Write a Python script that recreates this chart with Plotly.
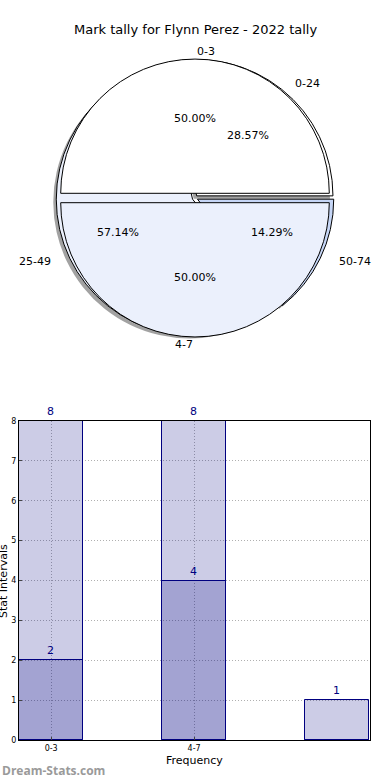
import math
import plotly.graph_objects as go

# ---- data ----
title = "Mark tally for Flynn Perez - 2022 tally"
pie_outer_labels = ["0-3", "4-7"]
pie_outer_values = [8, 8]
pie_inner_labels = ["0-24", "25-49", "50-74"]
pie_inner_values = [2, 4, 1]

bar_categories = ["0-3", "4-7", ""]
bar_series_a = [8, 8, 0]
bar_series_b = [2, 4, 1]
y_ticks = [0, 1, 2, 3, 4, 5, 6, 7, 8]

W, H = 390, 780
def fx(x):
    return x / W
def fy(y):
    return 1 - y / H

FONT = "DejaVu Sans"
CX, CY, HALF = 195, 198, 139          # pie centre / half-size of domain (pixels)
RX, RY = 143, 133                     # radii used to place the pie texts
pie_dom = dict(x=[fx(CX - HALF), fx(CX + HALF)], y=[fy(CY + HALF), fy(CY - HALF)])


def rotation_for(values):
    # plotly (counterclockwise): first slice ends at 90 - rotation degrees;
    # we want the first slice to start at 3 o'clock.
    return 90 - 360 * values[0] / sum(values)


fig = go.Figure()

# shadow of back pie
fig.add_trace(go.Pie(
    labels=pie_inner_labels, values=pie_inner_values, sort=False,
    direction="counterclockwise", rotation=rotation_for(pie_inner_values),
    domain=dict(x=[pie_dom["x"][0] - 3 / W, pie_dom["x"][1] - 3 / W],
                y=[pie_dom["y"][0] - 3 / H, pie_dom["y"][1] - 3 / H]),
    pull=[0.02] * 3,
    marker=dict(colors=["#8c8c8c"] * 3, line=dict(color="#8c8c8c", width=0)),
    opacity=0.8, textinfo="none", hoverinfo="skip", showlegend=False))

# back pie
fig.add_trace(go.Pie(
    labels=pie_inner_labels, values=pie_inner_values, sort=False,
    direction="counterclockwise", rotation=rotation_for(pie_inner_values), domain=pie_dom,
    pull=[0.02] * 3,
    marker=dict(colors=["#ffffff", "#ebf0fc", "#c6d6f6"], line=dict(color="#000000", width=1)),
    textinfo="none", hoverinfo="label+percent", showlegend=False))

# front pie
fig.add_trace(go.Pie(
    labels=pie_outer_labels, values=pie_outer_values, sort=False,
    direction="counterclockwise", rotation=rotation_for(pie_outer_values), domain=pie_dom,
    pull=[0.035] * 2,
    marker=dict(colors=["#ffffff", "#ebf0fc"], line=dict(color="#000000", width=1)),
    textinfo="none", hoverinfo="label+percent", showlegend=False))

# pie texts (labels at 1.1 radius, percentages at 0.6 radius), derived from the values
annotations = []
for labs, vals in [(pie_outer_labels, pie_outer_values), (pie_inner_labels, pie_inner_values)]:
    total = sum(vals)
    cum = 0
    for lab, v in zip(labs, vals):
        theta = math.radians(360 * (cum + v / 2) / total)
        cum += v
        c, s = math.cos(theta), math.sin(theta)
        annotations.append(dict(
            text=lab, x=fx(CX + 1.1 * RX * c), y=fy(CY - 1.1 * RY * s),
            xref="paper", yref="paper",
            xanchor="left" if c > 0 else "right", yanchor="middle",
            showarrow=False, font=dict(size=11, family=FONT, color="#000000")))
        annotations.append(dict(
            text=f"{100 * v / total:.2f}%", x=fx(CX + 0.6 * RX * c), y=fy(CY - 0.6 * RY * s),
            xref="paper", yref="paper",
            xanchor="center", yanchor="middle",
            showarrow=False, font=dict(size=11, family=FONT, color="#000000")))

# bars
xs = list(range(len(bar_categories)))
for vals in [bar_series_a, bar_series_b]:
    fig.add_trace(go.Bar(
        x=xs, y=vals, width=0.45,
        marker=dict(color="rgba(0,0,128,0.2)", line=dict(color="#000080", width=1)),
        text=[str(v) if v else "" for v in vals], textposition="outside",
        textfont=dict(family=FONT, size=11, color="#000080"),
        cliponaxis=False, showlegend=False, xaxis="x", yaxis="y"))

annotations += [
    dict(text=title, x=0.5, y=fy(30), xref="paper", yref="paper",
         showarrow=False, font=dict(size=13, family=FONT),
         xanchor="center", yanchor="middle"),
    dict(text="Stat Intervals", x=fx(3), y=fy(581), xref="paper", yref="paper",
         textangle=-90, showarrow=False, font=dict(size=11, family=FONT),
         xanchor="center", yanchor="middle"),
    dict(text="Frequency", x=fx(194), y=fy(760), xref="paper", yref="paper",
         showarrow=False, font=dict(size=11, family=FONT),
         xanchor="center", yanchor="middle"),
    dict(text="<b>Dream-Stats.com</b>", x=0, y=fy(770), xref="paper", yref="paper",
         showarrow=False, font=dict(size=12, family="Open Sans", color="#9a9a9a"),
         xanchor="left", yanchor="middle"),
]

fig.update_layout(
    width=W, height=H, margin=dict(l=0, r=0, t=0, b=0, autoexpand=False),
    paper_bgcolor="white", plot_bgcolor="white",
    barmode="overlay", bargap=0,
    font=dict(family=FONT, color="#000000"),
    xaxis=dict(domain=[fx(19), fx(370)], range=[-0.225, 2.23], automargin=False,
               tickvals=xs[:2], ticktext=bar_categories[:2],
               tickfont=dict(size=8, family=FONT), ticks="inside", ticklen=3,
               showgrid=True, gridcolor="#b0b0b0", griddash="1px,2px", gridwidth=1,
               showline=True, linecolor="#000000", mirror=True, zeroline=False),
    yaxis=dict(domain=[fy(740), fy(421)], range=[0, 8], automargin=False,
               tickvals=y_ticks, tickfont=dict(size=8, family=FONT),
               ticks="inside", ticklen=3,
               showgrid=True, gridcolor="#b0b0b0", griddash="1px,2px", gridwidth=1,
               showline=True, linecolor="#000000", mirror=True, zeroline=False),
    annotations=annotations,
)

fig.write_html("out.html", config={"displayModeBar": False},
               post_script="document.body.style.margin='0';")
